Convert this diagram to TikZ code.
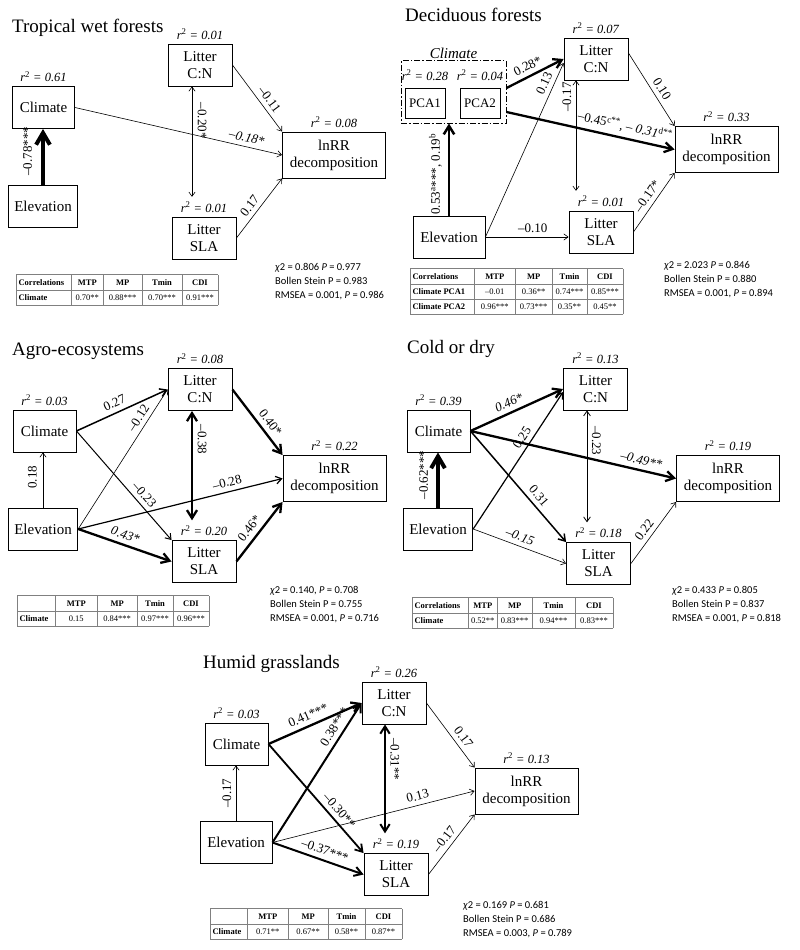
\documentclass[tikz,border=0pt]{standalone}
\usepackage{fontspec}
\setmainfont{Liberation Serif}
\newfontfamily\statfont{Carlito}
\usepackage{colortbl}
\usetikzlibrary{arrows.meta}
\newcolumntype{L}[1]{>{\bfseries\raggedright\arraybackslash}p{#1}}
\newcolumntype{C}[1]{>{\centering\arraybackslash}p{#1}}
\arrayrulecolor{gray}
\setlength{\tabcolsep}{2pt}
\renewcommand{\arraystretch}{1.5}
\newcommand{\rsq}[1]{\textit{r}\textsuperscript{2}\textit{ = #1}}
\begin{document}
\begin{tikzpicture}[x=1pt,y=-1pt,
  >={Straight Barb[length=3pt 2.2,width=5pt 2.2]},
  box/.style={draw=black,line width=0.9pt,align=center,inner xsep=6pt,inner ysep=2pt,minimum height=42pt,font=\fontsize{15}{17}\selectfont},
  litter/.style={box,minimum width=64pt},
  lnrr/.style={box,minimum width=103pt,minimum height=46pt},
  pca/.style={draw=black,line width=0.8pt,minimum width=40pt,minimum height=30pt,inner sep=1pt,font=\fontsize{13}{13}\selectfont},
  r2lab/.style={font=\fontsize{12.5}{12.5}\selectfont,inner sep=1pt,label distance=3pt},
  title/.style={font=\fontsize{19}{19}\selectfont,inner sep=0pt,anchor=base west},
  coef/.style={font=\fontsize{13}{13}\selectfont,inner sep=4.5pt},
  stats/.style={font=\statfont\fontsize{10.5}{14}\selectfont,align=left,anchor=north west,inner sep=0pt},
  tbl/.style={font=\fontsize{8.5}{10}\selectfont,anchor=north west,inner sep=0pt},
  w1/.style={draw=black,line width=0.6pt,->},
  w2/.style={draw=black,line width=1.2pt,->},
  w3/.style={draw=black,line width=2.3pt,->},
  w4/.style={draw=black,line width=4pt,->}]
\useasboundingbox (0,0) rectangle (800,950);

% Tropical wet forests
\node[title] (ttlA) at (12,33) {Tropical wet forests};
\node[box,minimum width=62pt,label={[r2lab]above:\rsq{0.61}}] (climA) at (43.5,107.5) {Climate};
\node[box] (elevA) at (43,206) {Elevation};
\node[litter,label={[r2lab]above:\rsq{0.01}}] (cnA) at (200,65) {Litter\\C:N};
\node[lnrr,label={[r2lab]above:\rsq{0.08}}] (lnA) at (334,155) {lnRR\\decomposition};
\node[litter,label={[r2lab,name=slaAr]above:\rsq{0.01}}] (slaA) at (204,238) {Litter\\SLA};
\draw[w4] (elevA.north) -- (elevA.north |- climA.south) node[coef,inner sep=9pt,pos=0.6,sloped,above] {–0.78***};
\draw[w1] (climA.east) -- (lnA.west) node[coef,pos=0.82,sloped,above] {\textit{–0.18*}};
\draw[w1,<->] ([xshift=-8pt]cnA.south) -- ([xshift=-8pt,yshift=4pt]cnA.south |- slaAr.north) node[coef,inner sep=5.5pt,pos=0.31,sloped,above] {–0.20*};
\draw[w1] (cnA.east) -- (lnA.north west) node[coef,pos=0.6,sloped,above] {–0.11};
\draw[w1] (slaA.east) -- (lnA.south west) node[coef,pos=0.45,sloped,above] {0.17};
\node[tbl] (tabA) at (16,274) {\begin{tabular}{|L{50.5pt}|C{27.5pt}|C{34.5pt}|C{35.5pt}|C{31.5pt}|}\hline
Correlations & \textbf{MTP} & \textbf{MP} & \textbf{Tmin} & \textbf{CDI}\\\hline
Climate & 0.70** & 0.88*** & 0.70*** & 0.91***\\\hline
\end{tabular}};
\node[stats] (gofA) at (275,263) {\textit{χ}2 = 0.806 \textit{P} = 0.977\\Bollen Stein P = 0.983\\RMSEA = 0.001, \textit{P} = 0.986};

% Deciduous forests
\node[title] (ttlB) at (405,22) {Deciduous forests};
\node[draw=black,line width=1pt,dash pattern=on 6pt off 2pt on 1.5pt off 2pt,minimum width=105pt,minimum height=62pt,
  label={[inner sep=1pt,font=\fontsize{15}{15}\selectfont\itshape,label distance=1pt]above:Climate}] (climB) at (453.5,92) {};
\node[pca,label={[r2lab,label distance=6pt]above:\rsq{0.28}}] (pcaB1) at (425,103) {PCA1};
\node[pca,label={[r2lab,label distance=6pt]above:\rsq{0.04}}] (pcaB2) at (480,103) {PCA2};
\node[litter,label={[r2lab]above:\rsq{0.07}}] (cnB) at (596,59) {Litter\\C:N};
\node[lnrr,label={[r2lab]above:\rsq{0.33}}] (lnB) at (726.5,149.5) {lnRR\\decomposition};
\node[litter,label={[r2lab,name=slaBr]above:\rsq{0.01}}] (slaB) at (601,232) {Litter\\SLA};
\node[box,minimum width=72pt] (elevB) at (449,237) {Elevation};
\draw[w3,line width=2.5pt] (elevB.north) -- (elevB.north |- climB.south) node[coef,inner sep=6pt,pos=0.45,sloped,above] {0.53\textsuperscript{a}***, 0.19\textsuperscript{b}};
\draw[w3] ([yshift=4pt]climB.east) -- (cnB.west) node[coef,pos=0.45,sloped,above] {0.28*};
\draw[w1] (elevB.east) -- ([yshift=-4pt]cnB.west) node[coef,pos=0.86,sloped,above] {0.13};
\draw[w3] ([yshift=-20pt]climB.east) -- (lnB.west) node[coef,pos=0.69,sloped,above] {–0.45\textsuperscript{c**}, \textit{– 0.31}\textsuperscript{d**}};
\draw[w1,<->] ([xshift=-20pt]cnB.south) -- ([xshift=-20pt,yshift=4pt]cnB.south |- slaBr.north) node[coef,pos=0.15,rotate=90,anchor=south] {–0.17};
\draw[w1] ([yshift=6pt]cnB.east) -- (lnB.north west) node[coef,pos=0.56,sloped,above] {0.10};
\draw[w1] (elevB.east) -- (elevB.east -| slaB.west) node[coef,pos=0.57,above] {–0.10};
\draw[w1] (slaB.east) -- (lnB.south west) node[coef,pos=0.52,sloped,above] {–0.17*};
\node[tbl] (tabB) at (410,268) {\begin{tabular}{|L{59.5pt}|C{36.5pt}|C{32.5pt}|C{30.5pt}|C{31.5pt}|}\hline
Correlations & \textbf{MTP} & \textbf{MP} & \textbf{Tmin} & \textbf{CDI}\\\hline
Climate PCA1 & –0.01 & 0.36** & 0.74*** & 0.85***\\\hline
Climate PCA2 & 0.96*** & 0.73*** & 0.35** & 0.45**\\\hline
\end{tabular}};
\node[stats] (gofB) at (664,261) {\textit{χ}2 = 2.023 \textit{P} = 0.846\\Bollen Stein P = 0.880\\RMSEA = 0.001, \textit{P} = 0.894};

% Agro-ecosystems
\node[title] (ttlC) at (12,355) {Agro-ecosystems};
\node[litter,label={[r2lab]above:\rsq{0.08}}] (cnC) at (200,389.5) {Litter\\C:N};
\node[box,minimum width=63pt,label={[r2lab]above:\rsq{0.03}}] (climC) at (44.5,431) {Climate};
\node[lnrr,label={[r2lab]above:\rsq{0.22}}] (lnC) at (334.5,478.5) {lnRR\\decomposition};
\node[box] (elevC) at (43,529) {Elevation};
\node[litter,label={[r2lab,name=slaCr]above:\rsq{0.20}}] (slaC) at (204,561.5) {Litter\\SLA};
\draw[w1] (elevC.north) -- (elevC.north |- climC.south) node[coef,inner sep=6pt,pos=0.55,sloped,above] {0.18};
\draw[w2,line width=1.5pt] (climC.east) -- (cnC.west) node[coef,pos=0.46,sloped,above] {0.27};
\draw[w1,line width=1pt] (climC.east) -- (slaC.north west) node[coef,pos=0.64,sloped,above] {–0.23};
\draw[w1] (elevC.east) -- (cnC.west) node[coef,pos=0.76,sloped,above] {–0.12};
\draw[w2] (elevC.east) -- (lnC.west) node[coef,pos=0.74,sloped,above] {–0.28};
\draw[w3] (elevC.east) -- (slaC.west) node[coef,pos=0.47,sloped,above] {\textit{0.43*}};
\draw[w3,<->] ([xshift=-8pt]cnC.south) -- ([xshift=-8pt,yshift=4pt]cnC.south |- slaCr.north) node[coef,pos=0.26,sloped,above] {–0.38};
\draw[w3] (cnC.east) -- (lnC.north west) node[coef,pos=0.6,sloped,above] {0.40*};
\draw[w3] (slaC.east) -- (lnC.south west) node[coef,pos=0.45,sloped,above] {0.46*};
\node[tbl] (tabC) at (17,595) {\begin{tabular}{|L{33.5pt}|C{37.5pt}|C{35.5pt}|C{31.5pt}|C{31.5pt}|}\hline
 & \textbf{MTP} & \textbf{MP} & \textbf{Tmin} & \textbf{CDI}\\\hline
Climate & 0.15 & 0.84*** & 0.97*** & 0.96***\\\hline
\end{tabular}};
\node[stats] (gofC) at (270,586) {\textit{χ}2 = 0.140, \textit{P} = 0.708\\Bollen Stein P = 0.755\\RMSEA = 0.001, \textit{P} = 0.716};

% Cold or dry
\node[title] (ttlD) at (407,353) {Cold or dry};
\node[litter,label={[r2lab]above:\rsq{0.13}}] (cnD) at (595.5,389) {Litter\\C:N};
\node[box,minimum width=63pt,label={[r2lab]above:\rsq{0.39}}] (climD) at (438.5,431) {Climate};
\node[lnrr,label={[r2lab]above:\rsq{0.19}}] (lnD) at (728,478.5) {lnRR\\decomposition};
\node[box] (elevD) at (438,529) {Elevation};
\node[litter,label={[r2lab,name=slaDr]above:\rsq{0.18}}] (slaD) at (598.5,563.5) {Litter\\SLA};
\draw[w4] (elevD.north) -- (elevD.north |- climD.south) node[coef,inner sep=8pt,pos=0.59,sloped,above] {–0.62***};
\draw[w3] (climD.east) -- (cnD.west) node[coef,pos=0.46,sloped,above] {\textit{0.46*}};
\draw[w3] (climD.east) -- (lnD.west) node[coef,pos=0.82,sloped,above] {\textit{–0.49**}};
\draw[w2,line width=1.5pt] (climD.east) -- (slaD.north west) node[coef,pos=0.64,sloped,above] {0.31};
\draw[w2] (elevD.east) -- ([yshift=-3pt]cnD.west) node[coef,pos=0.63,sloped,above] {0.25};
\draw[w1] (elevD.east) -- (slaD.west) node[coef,pos=0.47,sloped,above] {\textit{–0.15}};
\draw[w1,line width=0.8pt,<->] ([xshift=-8.5pt]cnD.south) -- ([xshift=-8.5pt,yshift=4pt]cnD.south |- slaDr.north) node[coef,pos=0.27,sloped,above] {–0.23};
\draw[w1] (slaD.east) -- (lnD.south west) node[coef,pos=0.46,sloped,above] {0.22};
\node[tbl] (tabD) at (412,597) {\begin{tabular}{|L{51.5pt}|C{24.5pt}|C{30.5pt}|C{38.5pt}|C{33.5pt}|}\hline
Correlations & \textbf{MTP} & \textbf{MP} & \textbf{Tmin} & \textbf{CDI}\\\hline
Climate & 0.52** & 0.83*** & 0.94*** & 0.83***\\\hline
\end{tabular}};
\node[stats] (gofD) at (672,586) {\textit{χ}2 = 0.433 \textit{P} = 0.805\\Bollen Stein P = 0.837\\RMSEA = 0.001, \textit{P} = 0.818};

% Humid grasslands
\node[title] (ttlE) at (203,668) {Humid grasslands};
\node[litter,label={[r2lab]above:\rsq{0.26}}] (cnE) at (394,703) {Litter\\C:N};
\node[box,minimum width=63pt,label={[r2lab]above:\rsq{0.03}}] (climE) at (236.5,744) {Climate};
\node[lnrr,label={[r2lab]above:\rsq{0.13}}] (lnE) at (526.5,791) {lnRR\\decomposition};
\node[box,minimum width=72pt] (elevE) at (236,842.5) {Elevation};
\node[litter,label={[r2lab,name=slaEr]above:\rsq{0.19}}] (slaE) at (396,874.5) {Litter\\SLA};
\draw[w1] (elevE.north) -- (elevE.north |- climE.south) node[coef,pos=0.5,sloped,above] {–0.17};
\draw[w3] (climE.east) -- (cnE.west) node[coef,pos=0.47,sloped,above] {0.41***};
\draw[w3,line width=1.8pt] (climE.east) -- (slaE.north west) node[coef,pos=0.67,sloped,above] {–0.30**};
\draw[w3,line width=2pt] (elevE.east) -- (cnE.west) node[coef,pos=0.79,sloped,above] {0.38***};
\draw[w1] (elevE.east) -- (lnE.west) node[coef,pos=0.73,sloped,above] {0.13};
\draw[w3,line width=2pt] (elevE.east) -- (slaE.west) node[coef,pos=0.54,sloped,above] {–0.37***};
\draw[w3,line width=2pt,<->] ([xshift=-9pt]cnE.south) -- ([xshift=-9pt,yshift=4pt]cnE.south |- slaEr.north) node[coef,pos=0.32,sloped,above] {–0.31**};
\draw[w1] (cnE.east) -- (lnE.north west) node[coef,pos=0.62,sloped,above] {0.17};
\draw[w1] (slaE.east) -- (lnE.south west) node[coef,pos=0.5,sloped,above] {–0.17};
\node[tbl] (tabE) at (210,908) {\begin{tabular}{|L{32.5pt}|C{36.5pt}|C{35.5pt}|C{32.5pt}|C{32.5pt}|}\hline
 & \textbf{MTP} & \textbf{MP} & \textbf{Tmin} & \textbf{CDI}\\\hline
Climate & 0.71** & 0.67** & 0.58** & 0.87**\\\hline
\end{tabular}};
\node[stats] (gofE) at (463,901) {\textit{χ}2 = 0.169 \textit{P} = 0.681\\Bollen Stein P = 0.686\\RMSEA = 0.003, \textit{P} = 0.789};
\end{tikzpicture}
\end{document}
